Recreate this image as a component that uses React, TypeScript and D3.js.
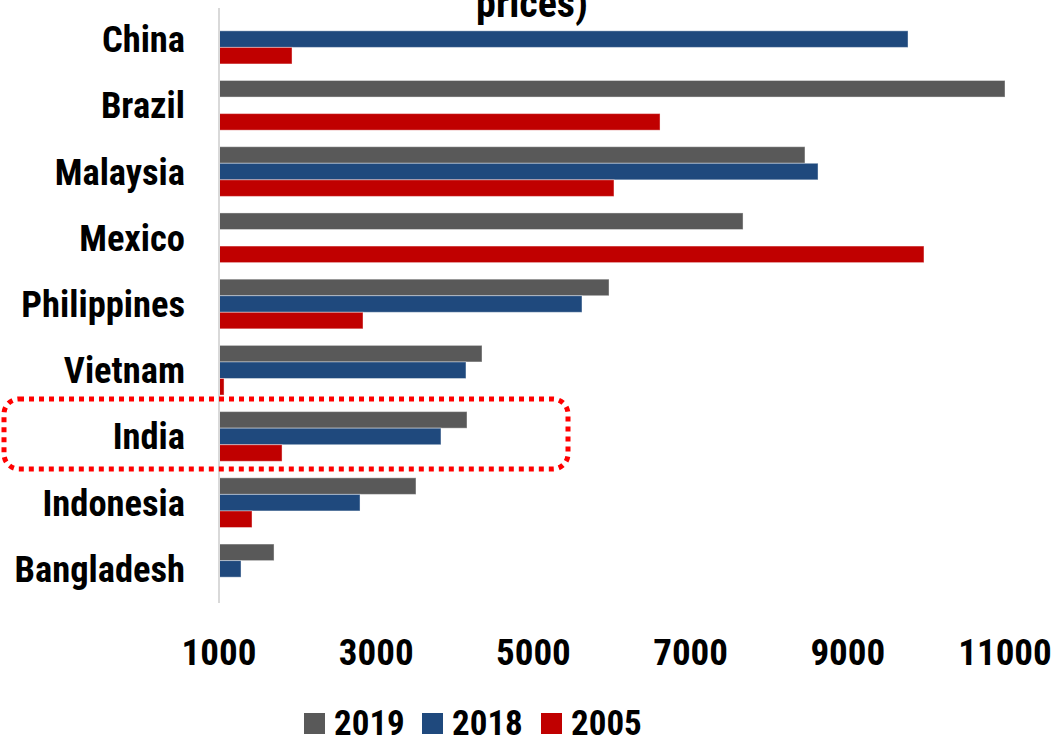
import React from "react";
import * as d3 from "d3";

const categories = ["China", "Brazil", "Malaysia", "Mexico", "Philippines", "Vietnam", "India", "Indonesia", "Bangladesh"];
const seriesNames = ["2019", "2018", "2005"];
const values2019: (number | null)[] = [null, 11000, 8455, 7667, 5962, 4346, 4155, 3506, 1700];
const values2018: (number | null)[] = [9766, null, 8621, null, 5618, 4142, 3824, 2794, 1280];
const values2005: (number | null)[] = [1929, 6611, 6025, 9969, 2832, 1064, 1802, 1420, null];
const tickValues = [1000, 3000, 5000, 7000, 9000, 11000];
const colors = ["#595959", "#1F497D", "#C00000"];

const FONT = "'Roboto Condensed', 'Liberation Sans Narrow', 'Arial Narrow', 'Liberation Sans', sans-serif";

export default function App() {
  const W = 1059, H = 739;
  const x = d3.scaleLinear().domain([1000, 11000]).range([219, 1005]);
  const y = d3.scaleBand<string>().domain(categories).range([6, 602]).paddingInner(0.25).paddingOuter(0.125);
  const inner = d3.scaleBand<string>().domain(seriesNames).range([0, y.bandwidth()]);
  const all = [values2019, values2018, values2005];

  const legendX = [304, 422, 541];

  return (
    <svg width={W} height={H} style={{ position: "absolute", left: 0, top: 0, background: "#fff" }}>
      <text x={532} y={17} textAnchor="middle" fontFamily={FONT} fontWeight="bold" fontSize={40} fill="#000">prices)</text>
      {all.map((vals, si) =>
        vals.map((v, ci) =>
          v == null ? null : (
            <rect
              key={`${si}-${ci}`}
              x={x(1000)}
              y={(y(categories[ci]) as number) + (inner(seriesNames[si]) as number)}
              width={x(v) - x(1000)}
              height={inner.bandwidth()}
              fill={colors[si]}
              stroke="#ffffff"
              strokeOpacity={0.4}
              strokeWidth={1}
            />
          )
        )
      )}
      <line x1={219} x2={219} y1={8} y2={603} stroke="#d9d9d9" strokeWidth={2} />
      {categories.map((c) => (
        <text key={c} x={185} y={(y(c) as number) + y.bandwidth() / 2 + 13} textAnchor="end"
          fontFamily={FONT} fontWeight="bold" fontSize={36.5} fill="#000">{c}</text>
      ))}
      {tickValues.map((t) => (
        <text key={t} x={x(t)} y={665} textAnchor="middle"
          fontFamily={FONT} fontWeight="bold" fontSize={37} fill="#000">{t}</text>
      ))}
      {seriesNames.map((s, i) => (
        <g key={s}>
          <rect x={legendX[i]} y={713} width={21} height={21} fill={colors[i]} />
          <text x={legendX[i] + 30} y={735} fontFamily={FONT} fontWeight="bold" fontSize={35} fill="#000">{s}</text>
        </g>
      ))}
      <rect x={4} y={399} width={564} height={70} rx={15} ry={15} fill="none" stroke="#FF0000" strokeWidth={5} strokeDasharray="5 5" />
    </svg>
  );
}
